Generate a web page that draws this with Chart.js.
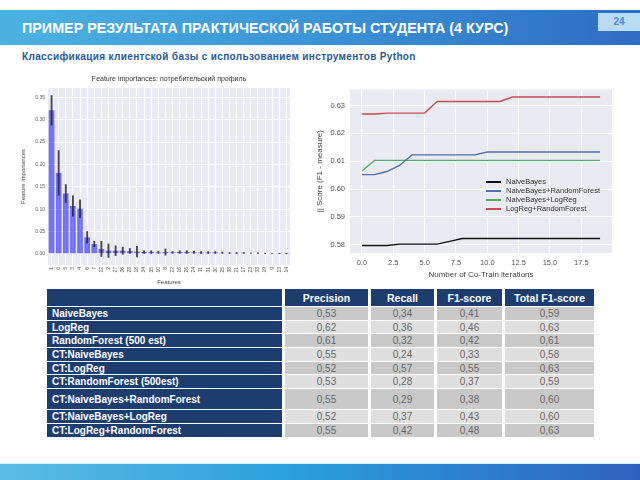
<!DOCTYPE html>
<html>
<head>
<meta charset="utf-8">
<script src="https://cdn.jsdelivr.net/npm/chart.js@4.4.0/dist/chart.umd.min.js"></script>
<style>
  html, body { margin: 0; padding: 0; }
  body { width: 640px; height: 480px; position: relative; overflow: hidden; background: #fff; font-family: "Liberation Sans", Arial, sans-serif; }
  #topbar { position: absolute; left: 0; top: 10px; width: 640px; height: 35px; background: linear-gradient(90deg, #4bb3e0 0%, #3a93d6 50%, #2f6cc3 100%); }
  #title { position: absolute; left: 22px; top: 19px; color: #fff; font-weight: bold; font-size: 15.5px; white-space: nowrap; transform-origin: left center; transform: scaleX(0.925); }
  #pagenum { position: absolute; left: 598px; top: 13px; width: 42px; height: 18px; background: #b9dcf3; color: #4a86c8; font-size: 10px; font-weight: bold; text-align: center; line-height: 18px; }
  #subtitle { position: absolute; left: 22px; top: 51px; color: #1f5a99; font-weight: bold; font-size: 10px; letter-spacing: 0.35px; white-space: nowrap; }
  #bottombar { position: absolute; left: 0; top: 463px; width: 640px; height: 17px; background: linear-gradient(90deg, #5cbde3 0%, #2aa0dc 45%, #2f62c0 100%); border-top: 1px solid #c8f0ff; }
  #barBox { position: absolute; left: 20px; top: 72px; width: 278px; height: 214px; }
  #barTitle { position: absolute; left: 69px; top: 75px; width: 200px; text-align: center; font-size: 7px; color: #333; white-space: nowrap; }
  #lineBox { position: absolute; left: 300px; top: 80px; width: 320px; height: 200px; }
  #legend { position: absolute; left: 486px; top: 177px; font-size: 7.5px; color: #333; }
  #legend div { height: 9px; line-height: 9px; white-space: nowrap; }
  #legend span { display: inline-block; width: 15px; height: 1.5px; vertical-align: middle; margin-right: 5px; }
  #table { position: absolute; left: 47px; top: 289px; display: grid; grid-template-columns: 235px 83px 63px 65px 89px; column-gap: 3px; row-gap: 1px; }
  #table div { display: flex; align-items: center; font-size: 10px; }
  .hd { background: #1e3d6f; color: #fff; font-weight: bold; justify-content: center; font-size: 10.5px !important; }
  .nm { background: #1e3d6f; color: #fff; font-weight: bold; padding-left: 5px; }
  .c1 { background: #c9c9c9; color: #666; justify-content: center; }
  .c2 { background: #dfdfdf; color: #666; justify-content: center; }
</style>
</head>
<body>
<div id="topbar"></div>
<div id="title">ПРИМЕР РЕЗУЛЬТАТА ПРАКТИЧЕСКОЙ РАБОТЫ СТУДЕНТА (4 КУРС)</div>
<div id="pagenum">24</div>
<div id="subtitle">Классификация клиентской базы с использованием инструментов Python</div>

<div id="barBox"><canvas id="barChart"></canvas></div>
<div id="barTitle">Feature importances: потребительский профиль</div>
<div id="lineBox"><canvas id="lineChart"></canvas></div>
<div id="legend"></div>

<div id="table"></div>
<div id="bottombar"></div>

<script>
// feature importances (left chart)
var featureLabels = ["1","0","5","3","4","6","7","12","2","27","36","28","18","34","35","10","8","22","16","26","24","11","31","30","25","38","21","17","23","33","19","9","13","14"];
var importances = [0.321,0.181,0.135,0.107,0.101,0.037,0.022,0.011,0.007,0.007,0.007,0.006,0.005,0.004,0.004,0.003,0.004,0.003,0.004,0.004,0.003,0.003,0.003,0.003,0.002,0.002,0.002,0.002,0.001,0.001,0.001,0.0005,0.0003,0.0001];
var importanceStd = [0.033,0.050,0.020,0.023,0.020,0.013,0.006,0.017,0.015,0.011,0.008,0.006,0.012,0.003,0.003,0.003,0.007,0.002,0.003,0.003,0.003,0.002,0.002,0.002,0.002,0.001,0.001,0.001,0.001,0.001,0.0005,0.0005,0.0003,0.0001];
var barTicks = [0, 0.05, 0.10, 0.15, 0.20, 0.25, 0.30, 0.35];

// co-training F1 (right chart)
var iterations = [0,1,2,3,4,5,6,7,8,9,10,11,12,13,14,15,16,17,18,19];
var naiveBayes = [0.5797,0.5797,0.5797,0.5802,0.5802,0.5802,0.5802,0.5812,0.5822,0.5822,0.5822,0.5822,0.5822,0.5822,0.5822,0.5822,0.5822,0.5822,0.5822,0.5822];
var nbRandomForest = [0.6052,0.6052,0.6063,0.6085,0.6123,0.6123,0.6123,0.6123,0.6123,0.6123,0.6133,0.6133,0.6133,0.6133,0.6133,0.6133,0.6133,0.6133,0.6133,0.6133];
var nbLogReg = [0.6065,0.6103,0.6103,0.6103,0.6103,0.6103,0.6103,0.6103,0.6103,0.6103,0.6103,0.6103,0.6103,0.6103,0.6103,0.6103,0.6103,0.6103,0.6103,0.6103];
var lrRandomForest = [0.6270,0.6270,0.6273,0.6273,0.6273,0.6273,0.6315,0.6315,0.6315,0.6315,0.6315,0.6315,0.6331,0.6331,0.6331,0.6331,0.6331,0.6331,0.6331,0.6331];
var lineNames = ["NaiveBayes", "NaiveBayes+RandomForest", "NaiveBayes+LogReg", "LogReg+RandomForest"];
var lineColors = ["#111111", "#4c72b0", "#55a868", "#c44e52"];
var xTicks = [0, 2.5, 5, 7.5, 10, 12.5, 15, 17.5];
var yTicks = [0.58, 0.59, 0.60, 0.61, 0.62, 0.63];

// results table
var tableHeader = ["", "Precision", "Recall", "F1-score", "Total F1-score"];
var models = ["NaiveBayes", "LogReg", "RandomForest (500 est)", "CT:NaiveBayes", "CT:LogReg", "CT:RandomForest (500est)", "CT:NaiveBayes+RandomForest", "CT:NaiveBayes+LogReg", "CT:LogReg+RandomForest"];
var precision = ["0,53","0,62","0,61","0,55","0,52","0,53","0,55","0,52","0,55"];
var recall = ["0,34","0,36","0,32","0,24","0,57","0,28","0,29","0,37","0,42"];
var f1 = ["0,41","0,46","0,42","0,33","0,55","0,37","0,38","0,43","0,48"];
var totalF1 = ["0,59","0,63","0,61","0,58","0,63","0,59","0,60","0,60","0,63"];

var plotBg = {
    id: "plotBg",
    beforeDraw: function (chart) {
        var a = chart.chartArea;
        chart.ctx.save();
        chart.ctx.fillStyle = "#eaeaf2";
        chart.ctx.fillRect(a.left, a.top, a.right - a.left, a.bottom - a.top);
        chart.ctx.restore();
    }
};

Chart.defaults.font.family = "'Liberation Sans', Arial, sans-serif";
Chart.defaults.animation = false;

new Chart(document.getElementById("barChart"), {
    type: "bar",
    data: {
        labels: featureLabels,
        datasets: [
            {
                data: importances.map(function (v, i) { return [v - importanceStd[i], v + importanceStd[i]]; }),
                backgroundColor: "rgba(40,40,40,0.85)",
                barThickness: 1.2,
                grouped: false,
                order: 0
            },
            {
                data: importances,
                backgroundColor: "rgba(0,0,255,0.52)",
                barPercentage: 0.8,
                categoryPercentage: 1.0,
                grouped: false,
                order: 1
            }
        ]
    },
    options: {
        responsive: true,
        maintainAspectRatio: false,
        layout: { padding: { left: 0, right: 8, top: 16, bottom: 0 } },
        plugins: {
            legend: { display: false },
            tooltip: { enabled: false }
        },
        scales: {
            x: {
                grid: { color: "#ffffff", offset: false, tickLength: 0 },
                border: { display: false },
                ticks: { autoSkip: false, minRotation: 90, maxRotation: 90, font: { size: 5 }, color: "#555", padding: 2 },
                title: { display: true, text: "Features", font: { size: 6 }, color: "#444", padding: 0 },
                afterFit: function (s) { s.height = 21; }
            },
            y: {
                min: -0.025,
                max: 0.371,
                grid: { color: "#ffffff", tickLength: 0 },
                border: { display: false },
                ticks: { font: { size: 5 }, color: "#555", padding: 3, callback: function (v) { return v.toFixed(2); } },
                title: { display: true, text: "Feature importances", font: { size: 6 }, color: "#444", padding: 0 },
                afterBuildTicks: function (s) { s.ticks = barTicks.map(function (v) { return { value: v }; }); },
                afterFit: function (s) { s.width = 28; }
            }
        }
    },
    plugins: [plotBg]
});

var series = [naiveBayes, nbRandomForest, nbLogReg, lrRandomForest];

new Chart(document.getElementById("lineChart"), {
    type: "line",
    data: {
        datasets: series.map(function (s, k) {
            return {
                label: lineNames[k],
                data: s.map(function (v, i) { return { x: iterations[i], y: v }; }),
                borderColor: lineColors[k],
                borderWidth: 1.4,
                pointRadius: 0,
                tension: 0
            };
        })
    },
    options: {
        responsive: true,
        maintainAspectRatio: false,
        layout: { padding: { left: 15, right: 8, top: 1, bottom: 0 } },
        plugins: { legend: { display: false }, tooltip: { enabled: false } },
        scales: {
            x: {
                type: "linear",
                min: -0.95,
                max: 19.95,
                grid: { color: "#ffffff", tickLength: 0 },
                border: { display: false },
                ticks: { font: { size: 7.5 }, color: "#555", padding: 5, callback: function (v) { return v.toFixed(1); } },
                title: { display: true, text: "Number of Co-Train iterations", font: { size: 8 }, color: "#444", padding: 0 },
                afterBuildTicks: function (s) { s.ticks = xTicks.map(function (v) { return { value: v }; }); },
                afterFit: function (s) { s.height = 27; }
            },
            y: {
                min: 0.5770,
                max: 0.6358,
                grid: { color: "#ffffff", tickLength: 0 },
                border: { display: false },
                ticks: { font: { size: 7.5 }, color: "#555", padding: 5, callback: function (v) { return v.toFixed(2); } },
                title: { display: true, text: "|| Score (F1 - measure)", font: { size: 8 }, color: "#444", padding: 0 },
                afterBuildTicks: function (s) { s.ticks = yTicks.map(function (v) { return { value: v }; }); },
                afterFit: function (s) { s.width = 35; }
            }
        }
    },
    plugins: [plotBg]
});

// legend drawn over the plot
var legend = document.getElementById("legend");
lineNames.forEach(function (n, k) {
    var row = document.createElement("div");
    row.innerHTML = '<span style="background:' + lineColors[k] + '"></span>' + n;
    legend.appendChild(row);
});

// table
var table = document.getElementById("table");
var rows = ["17px"];
tableHeader.forEach(function (h) {
    var c = document.createElement("div");
    c.className = "hd";
    c.textContent = h;
    table.appendChild(c);
});
models.forEach(function (m, i) {
    rows.push(m === "CT:NaiveBayes+RandomForest" ? "20px" : "12.7px");
    var cls = i % 2 === 0 ? "c1" : "c2";
    [m, precision[i], recall[i], f1[i], totalF1[i]].forEach(function (t, j) {
        var c = document.createElement("div");
        c.className = j === 0 ? "nm" : cls;
        c.textContent = t;
        table.appendChild(c);
    });
});
table.style.gridTemplateRows = rows.join(" ");
</script>
</body>
</html>
